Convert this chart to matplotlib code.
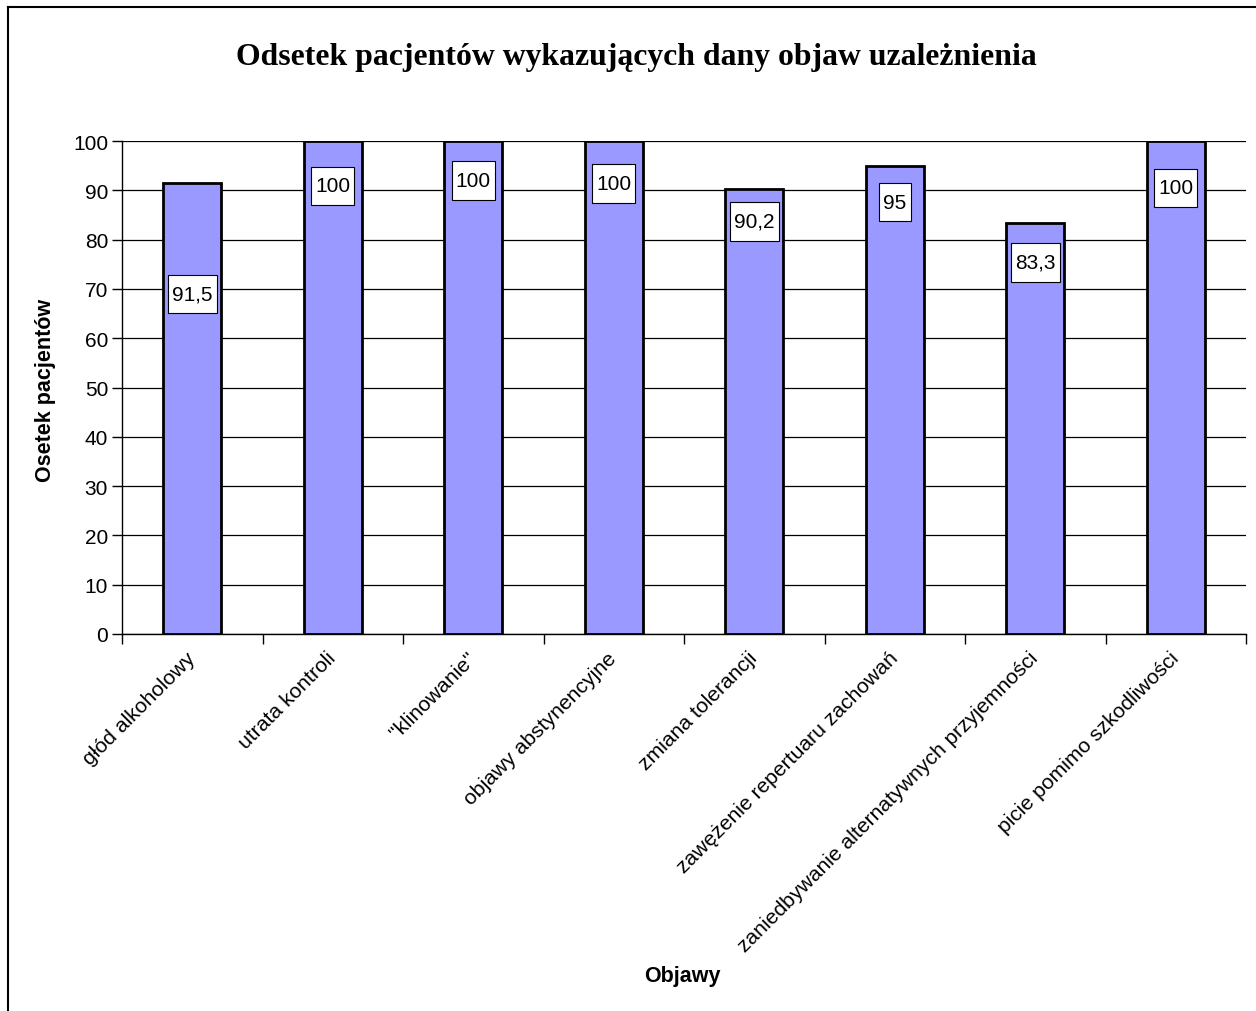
import numpy as np
import matplotlib
matplotlib.use('Agg')
import matplotlib.pyplot as plt
from matplotlib.path import Path
from matplotlib.lines import Line2D

# data
categories = ['głód alkoholowy', 'utrata kontroli', '"klinowanie"', 'objawy abstynencyjne',
              'zmiana tolerancji', 'zawężenie repertuaru zachowań',
              'zaniedbywanie alternatywnych przyjemności', 'picie pomimo szkodliwości']
values = [91.5, 100, 100, 100, 90.2, 95, 83.3, 100]
value_labels = ['91,5', '100', '100', '100', '90,2', '95', '83,3', '100']
# where each value box sits (in y units), as placed in the original
label_y = [69.0, 90.9, 92.0, 91.4, 83.7, 87.6, 75.4, 90.5]

W, H = 1256, 1012
fig = plt.figure(figsize=(W / 100, H / 100), dpi=100)
fig.patch.set_facecolor('white')

left, right, top, bottom = 122, 1246, 142, 635
ax = fig.add_axes([left / W, 1 - bottom / H, (right - left) / W, (bottom - top) / H])

x = np.arange(len(values))
ax.bar(x, values, width=0.41, color='#9999FF', edgecolor='black', linewidth=2, zorder=3)

ax.set_xlim(-0.5, len(values) - 0.5)
ax.set_ylim(0, 100)
ax.set_yticks(np.arange(0, 101, 10))
ax.yaxis.grid(True, color='black', linewidth=0.9, zorder=0)
ax.set_axisbelow(True)

for s in ['top', 'right']:
    ax.spines[s].set_visible(False)
for s in ['left', 'bottom']:
    ax.spines[s].set_linewidth(1.0)

ax.tick_params(axis='y', length=7, width=1, labelsize=15, pad=3)
ax.set_xticks(np.arange(-0.5, len(values)), minor=False)
ax.set_xticklabels([])
ax.set_xticks(x, minor=True)
ax.set_xticklabels(categories, minor=True, rotation=45, ha='right', va='center',
                   rotation_mode='anchor', fontsize=15.2)
ax.tick_params(axis='x', which='major', length=7, width=1)
ax.tick_params(axis='x', which='minor', length=0, pad=15)

for lab in ax.get_yticklabels() + ax.get_xticklabels(minor=True):
    lab.set_family('Liberation Sans')


def excel_box(x0, y0, width, height, mutation_size):
    px = 0.2 * mutation_size
    py = 0.47 * mutation_size
    x0, y0 = x0 - px, y0 - py
    x1, y1 = x0 + width + 2 * px, y0 + height + 2 * py
    return Path([(x0, y0), (x1, y0), (x1, y1), (x0, y1), (x0, y0)], closed=True)


for xi, yi, t in zip(x, label_y, value_labels):
    ax.text(xi, yi, t, ha='center', va='center', fontsize=15, family='Liberation Sans',
            zorder=5, bbox=dict(boxstyle=excel_box, facecolor='white', edgecolor='black', linewidth=0.8))

fig.text(636 / W, 1 - 58 / H, 'Odsetek pacjentów wykazujących dany objaw uzależnienia',
         ha='center', va='center', fontsize=22.9, fontweight='bold', family='Liberation Serif')
fig.text(46 / W, 1 - 390 / H, 'Osetek pacjentów', rotation=90, ha='center', va='center',
         fontsize=15.5, fontweight='bold', family='Liberation Sans')
fig.text(682 / W, 1 - 977 / H, 'Objawy', ha='center', va='center',
         fontsize=15.5, fontweight='bold', family='Liberation Sans')

# outer chart frame (only top and left edges visible)
fig.add_artist(Line2D([7.5 / W, 7.5 / W], [0, 1 - 7.5 / H], transform=fig.transFigure,
                      color='black', linewidth=1.5))
fig.add_artist(Line2D([7.5 / W, 1], [1 - 7.5 / H, 1 - 7.5 / H], transform=fig.transFigure,
                      color='black', linewidth=1.5))

fig.savefig('out.png', dpi=100)
